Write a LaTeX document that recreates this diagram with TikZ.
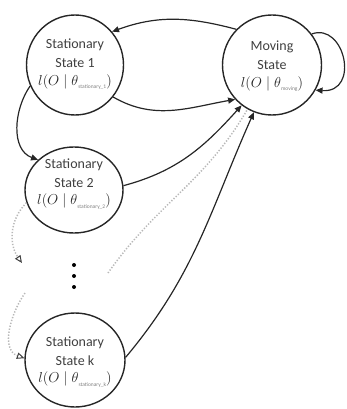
\documentclass[tikz,border=0pt]{standalone}
\usepackage{fontspec}
\setmainfont{Carlito}
\usetikzlibrary{arrows.meta,shapes.geometric}
% likelihood term l(O | theta_sub)
\newcommand\likeli[1]{{\fontsize{14.5}{14.5}\selectfont\color{black!85}$l(O\mskip5mu|\mskip5mu\theta$}\raisebox{-3.5pt}{\fontsize{5.5}{5.5}\selectfont\color{black!50}#1}{\fontsize{14.5}{14.5}\selectfont\color{black!85}$)$}}
\begin{document}
\begin{tikzpicture}[x=1pt,y=-1pt,
  state/.style={ellipse,draw=black!85,line width=1.4pt,inner sep=0pt},
  caption/.style={align=center,text=black!75,font=\fontsize{14}{19}\selectfont},
  edge/.style={line width=1.2pt,draw=black!85,-{Triangle[length=7pt,width=6pt]}},
  faint/.style={line width=1.5pt,draw=black!28,dash pattern=on 1.3pt off 1.7pt},
  hollow/.style={-{Triangle[open,length=7.5pt,width=6.5pt,color=black!75,line width=1pt]}},
  dot/.style={circle,fill=black,inner sep=0pt,minimum size=4pt}
]
\useasboundingbox (0,0) rectangle (347,409);

% states
\node[state,minimum width=97pt,minimum height=100pt] (s1) at (75,65) {};
\node[state,minimum width=99pt,minimum height=100pt] (mv) at (272,65) {};
\node[state,minimum width=98pt,minimum height=86pt]  (s2) at (74,190) {};
\node[state,minimum width=100pt,minimum height=94pt] (sk) at (75,360) {};

\node[caption] (s1t) at (75,64) {Stationary\\State 1\\[-1pt]\likeli{stationary\_1}};
\node[caption] (mvt) at (272,66) {Moving\\State\\[-1pt]\likeli{moving}};
\node[caption] (s2t) at (74,184) {Stationary\\State 2\\[-2pt]\likeli{stationary\_2}};
\node[caption] (skt) at (75,362) {Stationary\\State k\\[-2pt]\likeli{stationary\_k}};

% ellipsis between state 2 and state k
\node[dot] (d1) at (74,265) {};
\node[dot] (d2) at (74,276) {};
\node[dot] (d3) at (74,287) {};

\coordinate (dotA) at (108,273);
\coordinate (tip2) at (22,263);
\coordinate (startk) at (25,293);

% transitions
\draw[edge] (mv.135) to[out=165,in=20] (s1.42);
\draw[edge] (s1.-40) to[out=-30,in=190] (mv.223);
\draw[edge] (s2.5) to[out=15,in=228] (mv.233);
\draw[faint] (dotA) to[out=55,in=240] (mv.241);
\draw[edge] (sk.3) to[out=50,in=246] (mv.249);
\draw[edge] (s1.205) to[out=235,in=160] (s2.140);
\draw[edge] (mv.38) .. controls +(33,-12) and +(45,3) .. (mv.-30);

% dotted hops into and out of the omitted states
\draw[faint,hollow] (s2.195) to[out=225,in=125] (tip2);
\draw[faint,hollow] (startk) to[out=235,in=160] (sk.178);
\end{tikzpicture}
\end{document}
